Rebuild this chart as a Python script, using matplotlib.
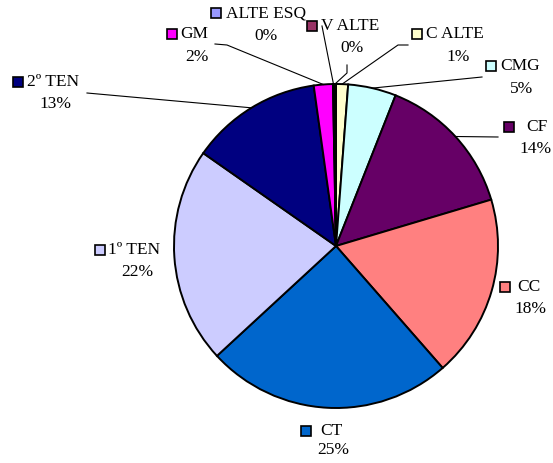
import numpy as np
import matplotlib.pyplot as plt
from matplotlib.patches import Rectangle

plt.rcParams['font.family'] = ['Liberation Serif', 'DejaVu Serif']

# data, clockwise from 12 o'clock
categories = ['C ALTE', 'CMG', 'CF', 'CC', 'CT', '1º TEN', '2º TEN', 'GM', 'ALTE ESQ', 'V ALTE']
values = [1.2, 4.8, 14.4, 18.2, 24.6, 21.6, 13.1, 1.9, 0.1, 0.2]
colors = ['#FFFFCC', '#CCFFFF', '#660066', '#FF8080', '#0066CC',
          '#CCCCFF', '#000080', '#FF00FF', '#9999FF', '#993366']

W, H = 553, 463

# label layout in pixels from top-left: square x, row y, name x, pct x, pct y
label_pos = {
    'ALTE ESQ': (211, 13, 226, 266, 36),
    'V ALTE': (307, 26, 321, 352, 48),
    'GM': (167, 34, 180, 197, 57),
    'C ALTE': (412, 34, 426, 458, 57),
    'CMG': (486, 66, 500, 522, 89),
    'CF': (504, 127, 526, 536, 149),
    'CC': (500, 287, 517, 530, 309),
    'CT': (301, 431, 320, 333, 450),
    '1º TEN': (95, 250, 108, 137, 272),
    '2º TEN': (13, 82, 27, 55, 104),
}
# leader line start points (label side), the end goes to the wedge
leaders = {
    '2º TEN': [(87, 93)],
    'GM': [(215, 44), (227, 45)],
    'ALTE ESQ': [(322, 26)],
    'V ALTE': [(347, 65), (347, 73)],
    'C ALTE': [(408, 45), (398, 45)],
    'CMG': [(482, 77)],
    'CF': [(498, 137)],
}

fig = plt.figure(figsize=(W / 100, H / 100), dpi=100)
ax = fig.add_axes([0, 0, 1, 1])

cx, cy, r = 336, H - 246, 162
wedges, _ = ax.pie(values, colors=colors, startangle=90, counterclock=False,
                   center=(cx, cy), radius=r,
                   wedgeprops=dict(edgecolor='black', linewidth=1.4))
ax.set_xlim(0, W)
ax.set_ylim(0, H)
ax.set_aspect('equal')
ax.axis('off')

total = sum(values)
for wedge, cat, val, col in zip(wedges, categories, values, colors):
    sx, sy, tx, px, py = label_pos[cat]
    ax.add_patch(Rectangle((sx, H - sy - 5), 10, 10, facecolor=col,
                           edgecolor='black', linewidth=1.2, zorder=5))
    ax.text(tx, H - sy, cat, fontsize=12.5, ha='left', va='center')
    ax.text(px, H - py, f'{round(val / total * 100)}%', fontsize=12.5,
            ha='center', va='center')
    if cat in leaders:
        mid = np.deg2rad((wedge.theta1 + wedge.theta2) / 2)
        pts = leaders[cat] + [(cx + r * np.cos(mid), H - (cy + r * np.sin(mid)))]
        xs = [p[0] for p in pts]
        ys = [H - p[1] for p in pts]
        ax.plot(xs, ys, color='black', linewidth=0.8, zorder=4)

fig.savefig('out.png', dpi=100)
